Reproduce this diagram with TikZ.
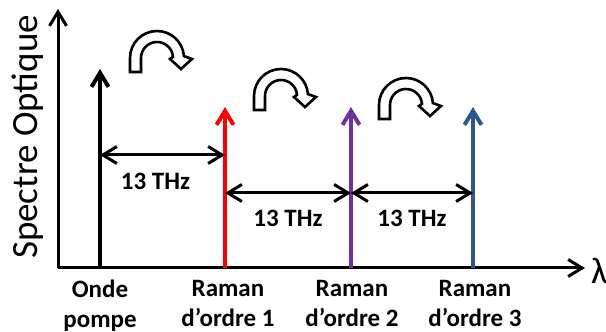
\documentclass[tikz,border=0pt]{standalone}
\usepackage{fontspec}
\setmainfont{Carlito}
\usepackage{tikz}
\usetikzlibrary{calc, positioning, arrows.meta}
\definecolor{ramanred}{RGB}{255,0,0}
\definecolor{ramanpurple}{RGB}{112,48,160}
\definecolor{ramanblue}{RGB}{47,85,151}
\newcommand\ramanhop[2]{\draw[fill=white, line width=2.6pt, line join=miter, shift={(#1,#2)}] (-27,-14) -- (-27,0) arc[start angle=180, end angle=4, radius=27] -- (35,-1) -- (24,-11) -- (13,-1) -- (4:16) arc[start angle=4, end angle=180, radius=16] -- (-16,-14) -- cycle;}
\tikzset{
  barb/.style={-{Straight Barb[length=14pt, width=17pt]}},
  dbarb/.style={{Straight Barb[length=14pt, width=17pt]}-{Straight Barb[length=14pt, width=17pt]}},
  raie/.style={barb, line width=4pt},
  lbl/.style={font=\fontsize{25}{30}\selectfont\bfseries, align=center, inner sep=0pt},
}
\begin{document}
\begin{tikzpicture}[x=1pt, y=1pt]
\clip (0,0) rectangle (606,332);
% axes
\coordinate (O) at (58,64);
\coordinate (ytop) at (58,323);
\coordinate (xend) at (585,64);
\draw[barb, line width=3pt] (O) -- (ytop);
\draw[barb, line width=3pt] (O) -- (xend);
\node[rotate=90, anchor=base, inner sep=0pt, font=\fontsize{37}{44}\selectfont] (yaxe) at (37,195) {Spectre Optique};
\node[anchor=base west, inner sep=0pt, font=\fontsize{37}{44}\selectfont] (xaxe) at (591,48) {λ};

% raies
\coordinate (pompe) at (100,64);
\coordinate (r1) at (225,64);
\coordinate (r2) at (351,64);
\coordinate (r3) at (473,64);
\coordinate (pompetop) at (100,263);
\coordinate (r1top) at (225,225);
\coordinate (r2top) at (351,225);
\coordinate (r3top) at (473,225);
\draw[raie, black] (pompe) -- (pompetop);
\draw[raie, ramanred] (r1) -- (r1top);
\draw[raie, ramanpurple] (r2) -- (r2top);
\draw[raie, ramanblue] (r3) -- (r3top);

% ecarts
\draw[dbarb, line width=3pt] (100,177) -- (225,177) node[lbl, midway, anchor=base, xshift=-7pt, yshift=-35pt] (d1) {13 THz};
\draw[dbarb, line width=3pt] (225,139) -- (351,139) node[lbl, midway, anchor=base, yshift=-34pt] (d2) {13 THz};
\draw[dbarb, line width=3pt] (351,139) -- (473,139) node[lbl, midway, anchor=base, yshift=-34pt] (d3) {13 THz};

% noms
\node[lbl, anchor=north] (npompe) at (100,52) {Onde\\pompe};
\node[lbl, anchor=north] (nr1) at (228,52) {Raman\\d’ordre 1};
\node[lbl, anchor=north] (nr2) at (352,52) {Raman\\d’ordre 2};
\node[lbl, anchor=north] (nr3) at (475,52) {Raman\\d’ordre 3};

% sauts
\ramanhop{157}{274}
\ramanhop{281}{236}
\ramanhop{406}{227}
\end{tikzpicture}
\end{document}
